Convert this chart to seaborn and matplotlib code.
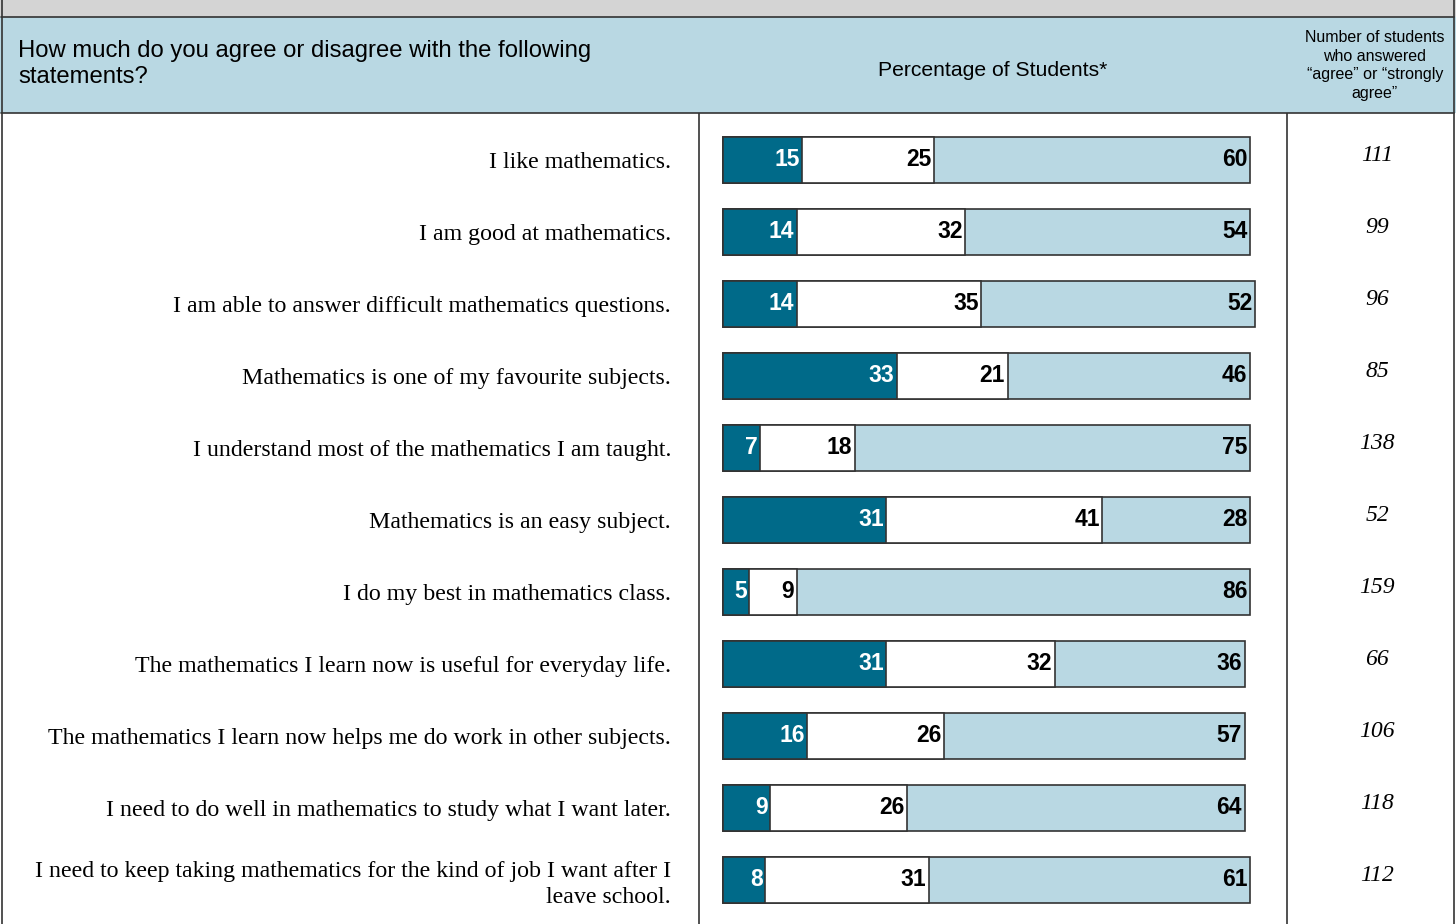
"""
Student attitudes towards mathematics: stacked percentage bars in a table layout.
"""

import matplotlib.pyplot as plt
import matplotlib.transforms as mtransforms
from matplotlib.patches import Rectangle
from matplotlib.lines import Line2D
import seaborn as sns

statements = [
    "I like mathematics.",
    "I am good at mathematics.",
    "I am able to answer difficult mathematics questions.",
    "Mathematics is one of my favourite subjects.",
    "I understand most of the mathematics I am taught.",
    "Mathematics is an easy subject.",
    "I do my best in mathematics class.",
    "The mathematics I learn now is useful for everyday life.",
    "The mathematics I learn now helps me do work in other subjects.",
    "I need to do well in mathematics to study what I want later.",
    "I need to keep taking mathematics for the kind of job I want after I\nleave school.",
]
disagree = [15, 14, 14, 33, 7, 31, 5, 31, 16, 9, 8]
neutral = [25, 32, 35, 21, 18, 41, 9, 32, 26, 26, 31]
agree = [60, 54, 52, 46, 75, 28, 86, 36, 57, 64, 61]
agree_counts = [111, 99, 96, 85, 138, 52, 159, 66, 106, 118, 112]

header_question = "How much do you agree or disagree with the following\nstatements?"
header_middle = "Percentage of Students*"
header_right = "Number of students\nwho answered\n\u201cagree\u201d or \u201cstrongly\nagree\u201d"

DARK = "#006a89"
LIGHT = "#b9d8e3"
EDGE = "#333333"
GREY = "#d4d4d4"

W, H = 1456, 924
sns.set_style("white")
plt.rcParams["font.family"] = ["Liberation Sans", "DejaVu Sans"]
plt.rcParams["text.color"] = "black"
plt.rcParams["ytick.color"] = "black"
plt.rcParams["ytick.labelcolor"] = "black"

fig = plt.figure(figsize=(W / 100, H / 100), dpi=100)

# figure-level background pieces (pixel coords -> figure fraction)
def fx(px):
    return px / W

def fy(py):
    return 1 - py / H

fig.patches.append(Rectangle((0, fy(17)), 1, 17 / H, transform=fig.transFigure,
                             facecolor=GREY, edgecolor="none", zorder=0))
fig.patches.append(Rectangle((0, fy(113)), 1, 96 / H, transform=fig.transFigure,
                             facecolor=LIGHT, edgecolor="none", zorder=0))
for y in (17, 113):
    fig.lines.append(Line2D([fx(1), fx(1454)], [fy(y), fy(y)], transform=fig.transFigure,
                            color=EDGE, lw=1.2))
for x in (1.5, 1454):
    fig.lines.append(Line2D([fx(x), fx(x)], [0, 1], transform=fig.transFigure,
                            color=EDGE, lw=1.2))

# bar column axes spans the middle column of the table
left_px, right_px, top_px = 699, 1287, 113
ax = fig.add_axes([fx(left_px), 0, fx(right_px - left_px), (H - top_px) / H])

disagree_neutral = [d + n for d, n in zip(disagree, neutral)]
totals = [d + n + a for d, n, a in zip(disagree, neutral, agree)]

bar_kw = dict(orient="h", width=0.65, edgecolor=EDGE, linewidth=1.2, ax=ax, saturation=1)
sns.barplot(x=totals, y=statements, color=LIGHT, **bar_kw)
sns.barplot(x=disagree_neutral, y=statements, color="white", **bar_kw)
sns.barplot(x=disagree, y=statements, color=DARK, **bar_kw)

px_per_unit = 5.27
x0 = -(723 - left_px) / px_per_unit
ax.set_xlim(x0, x0 + (right_px - left_px) / px_per_unit)
y0 = -47 / 72
ax.set_ylim(y0 + (H - top_px) / 72, y0)

ax.set_xlabel("")
ax.set_ylabel("")
ax.set_xticks([])
ax.tick_params(axis="y", length=0, pad=20)
for lbl in ax.get_yticklabels():
    lbl.set_fontfamily("Liberation Serif")
    lbl.set_fontsize(17.2)
    lbl.set_linespacing(1.3)
    lbl.set_color("black")
for side in ("top", "bottom"):
    ax.spines[side].set_visible(False)
for side in ("left", "right"):
    ax.spines[side].set_color(EDGE)
    ax.spines[side].set_linewidth(1.2)

# segment value labels at the right end of each segment
label_font = dict(fontsize=16.5, fontweight="bold", va="center", ha="right",
                  family=["Liberation Sans Narrow", "Liberation Sans"])
for i in range(len(statements)):
    ax.text(disagree[i] - 0.5, i, str(disagree[i]), color="white", **label_font)
    ax.text(disagree_neutral[i] - 0.5, i, str(neutral[i]), color="black", **label_font)
    ax.text(totals[i] - 0.5, i, str(agree[i]), color="black", **label_font)

# right column: number of students agreeing
blend = mtransforms.blended_transform_factory(fig.transFigure, ax.transData)
for i, n in enumerate(agree_counts):
    fig.text(fx(1377), i - 0.06, str(n), transform=blend, ha="center", va="center",
             fontsize=17, style="italic", family="Liberation Serif")

# header texts
fig.text(fx(18), fy(64), header_question, ha="left", va="center", fontsize=17.2,
         linespacing=1.27)
fig.text(fx(993), fy(70), header_middle, ha="center", va="center", fontsize=15.2)
fig.text(fx(1375), fy(65.5), header_right, ha="center", va="center", fontsize=11.5,
         linespacing=1.32)

fig.savefig("out.png", dpi=100)
